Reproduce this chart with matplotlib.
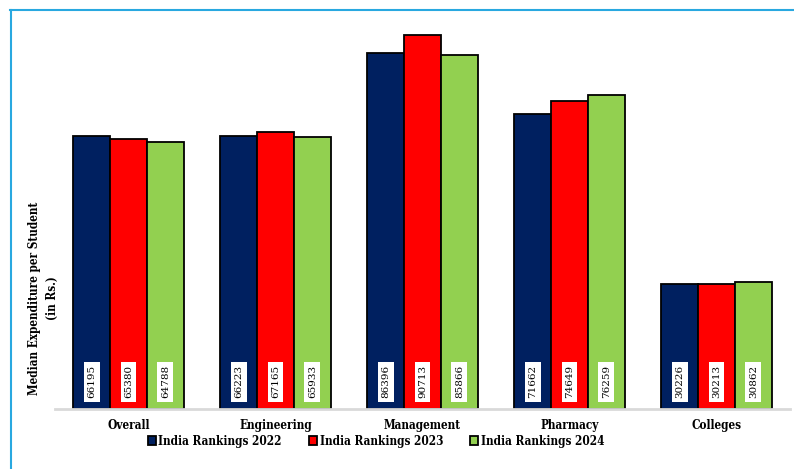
import matplotlib.pyplot as plt
import numpy as np
from matplotlib.lines import Line2D

# Data
categories = ['Overall', 'Engineering', 'Management', 'Pharmacy', 'Colleges']
series_names = ['India Rankings 2022', 'India Rankings 2023', 'India Rankings 2024']
values_2022 = [66195, 66223, 86396, 71662, 30226]
values_2023 = [65380, 67165, 90713, 74649, 30213]
values_2024 = [64788, 65933, 85866, 76259, 30862]

colors = ['#002060', '#FF0000', '#92D050']
serif = ['DejaVu Serif']
font_bold = dict(family=serif, weight='bold', stretch='condensed')

fig = plt.figure(figsize=(7.94, 4.69), dpi=100)
ax = fig.add_axes([0.0693, 0.128, 0.9257, 0.835])

x = np.arange(len(categories))
width = 0.25
all_series = [values_2022, values_2023, values_2024]

for i, (vals, name, col) in enumerate(zip(all_series, series_names, colors)):
    pos = x + (i - 1) * width
    ax.bar(pos, vals, width, color=col, edgecolor='black', linewidth=1.3, label=name, zorder=2)
    # value labels in white boxes near the bottom
    for p, v in zip(pos, vals):
        ax.text(p, 6600, str(v), rotation=90, ha='center', va='center',
                fontsize=7.5, family=serif, color='black', zorder=3,
                bbox=dict(facecolor='white', edgecolor='none', pad=2.4))

ax.set_xlim(-0.5, 4.5)
ax.set_ylim(0, 95000)
ax.set_xticks(x)
ax.set_xticklabels(categories, fontsize=8.5, **font_bold)
ax.tick_params(axis='x', length=0, pad=7)
ax.set_yticks([])
for s in ['top', 'right', 'left']:
    ax.spines[s].set_visible(False)
ax.spines['bottom'].set_color('#D9D9D9')
ax.spines['bottom'].set_linewidth(2)

ax.set_ylabel('Median Expenditure per Student\n(in Rs.)', fontsize=8.5,
              linespacing=1.5, **font_bold)
ax.yaxis.set_label_coords(0.006, 0.283)

leg = fig.legend(loc='center', bbox_to_anchor=(376 / 794, 1 - 441 / 469), ncol=3, frameon=False,
                 handlelength=0.7, handleheight=0.7, handletextpad=0.2, columnspacing=2.3,
                 prop={'family': serif, 'weight': 'bold', 'size': 8.5, 'stretch': 'condensed'})

# light blue frame on top and left
fig.add_artist(Line2D([10 / 794, 1], [1 - 10 / 469, 1 - 10 / 469], color='#29A8E0', lw=1.5))
fig.add_artist(Line2D([11 / 794, 11 / 794], [0, 1 - 10 / 469], color='#29A8E0', lw=1.5))

fig.savefig('out.png', dpi=100)
